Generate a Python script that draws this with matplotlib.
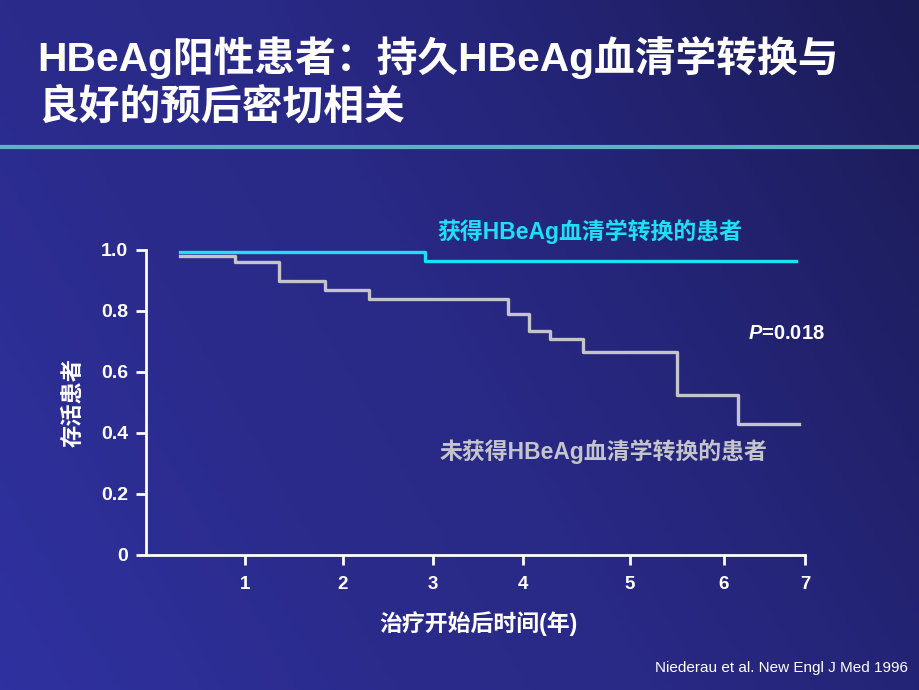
import numpy as np
import matplotlib.pyplot as plt
from matplotlib.colors import LinearSegmentedColormap

plt.rcParams['font.family'] = ['Liberation Sans', 'Noto Sans CJK SC', 'DejaVu Sans']
plt.rcParams['mathtext.fontset'] = 'custom'
plt.rcParams['mathtext.bfit'] = 'Liberation Sans:bold:italic'

# survival curves (years, proportion surviving)
conv_t = [0.36, 2.96, 6.90]
conv_s = [0.993, 0.964, 0.964]
nonconv_t = [0.36, 0.95, 1.41, 1.90, 2.37, 3.84, 4.07, 4.29, 4.64, 5.64, 6.29, 6.94]
nonconv_s = [0.981, 0.959, 0.897, 0.869, 0.840, 0.790, 0.734, 0.708, 0.667, 0.525, 0.430, 0.430]

xtick_pos = [1.05, 2.09, 3.05, 4.0, 5.14, 6.14, 7.0]
xtick_labels = ['1', '2', '3', '4', '5', '6', '7']
ytick_pos = [0, 0.2, 0.4, 0.6, 0.8, 1.0]
ytick_labels = ['0', '0.2', '0.4', '0.6', '0.8', '1.0']

fig = plt.figure(figsize=(9.2, 6.9), dpi=100)

# gradient background: brighter on the left and towards the bottom
bg = fig.add_axes([0, 0, 1, 1], zorder=-10)
gx, gy = np.meshgrid(np.linspace(0, 1, 200), np.linspace(0, 1, 200))
g = (1 - gx) * 0.7 + gy * 0.3
cmap = LinearSegmentedColormap.from_list(
    'bg', [(0, '#1b1b56'), (0.3, '#242476'), (0.5, '#292986'), (0.7, '#2b2b8c'), (1, '#2f31a0')])
bg.imshow(g, cmap=cmap, aspect='auto', extent=[0, 1, 0, 1], origin='upper', vmin=0, vmax=1)
bg.axis('off')

fig.text(0.041, 0.917, 'HBeAg阳性患者：持久HBeAg血清学转换与', color='white',
         fontsize=29.3, fontweight='bold', va='center', ha='left')
fig.text(0.041, 0.845, '良好的预后密切相关', color='white',
         fontsize=29.3, fontweight='bold', va='center', ha='left')
fig.add_artist(plt.Line2D([0, 1], [0.787, 0.787], color='#5ab4c0', lw=3))

ax = fig.add_axes([0.1587, 0.1957, 0.7163, 0.442])
ax.set_facecolor('none')
ax.step(conv_t, conv_s, where='post', color='#1ee0f5', lw=2.4)
ax.step(nonconv_t, nonconv_s, where='post', color='#c4c4cc', lw=2.4)

ax.set_xlim(0, 7)
ax.set_ylim(0, 1)
for s in ['top', 'right']:
    ax.spines[s].set_visible(False)
for s in ['left', 'bottom']:
    ax.spines[s].set_color('white')
    ax.spines[s].set_linewidth(2)
ax.set_xticks(xtick_pos)
ax.set_xticklabels(xtick_labels)
ax.set_yticks(ytick_pos)
ax.set_yticklabels(ytick_labels)
ax.tick_params(colors='white', width=2, length=7, pad=6)
ax.tick_params(axis='y', labelsize=14)
ax.tick_params(axis='x', labelsize=13.5, pad=8)
for lab in ax.get_xticklabels() + ax.get_yticklabels():
    lab.set_fontweight('bold')

ax.set_ylabel('存活患者', color='white', fontsize=16, fontweight='bold', labelpad=12)
ax.set_xlabel('治疗开始后时间(年)', color='white', fontsize=16.5, fontweight='bold')
ax.xaxis.set_label_coords(0.505, -0.185)

fig.text(0.475, 0.665, '获得HBeAg血清学转换的患者', color='#1ee0f5',
         fontsize=16.5, fontweight='bold', va='center', ha='left')
fig.text(0.478, 0.345, '未获得HBeAg血清学转换的患者', color='#c4c4cc',
         fontsize=16.5, fontweight='bold', va='center', ha='left')
fig.text(0.813, 0.517, r'$\bfit{P}$=0.018', color='white',
         fontsize=14.5, fontweight='bold', va='center', ha='left')
fig.text(0.987, 0.032, 'Niederau et al. New Engl J Med 1996', color='white',
         fontsize=11, va='center', ha='right')

fig.savefig('out.png', dpi=100)
